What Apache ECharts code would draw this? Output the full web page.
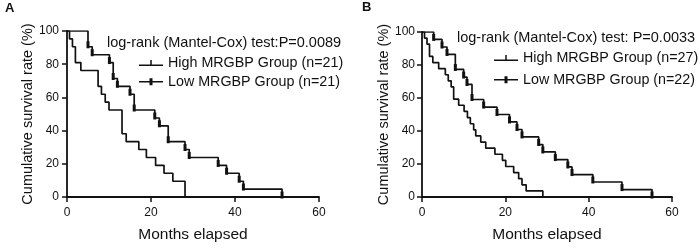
<!DOCTYPE html>
<html>
<head>
<meta charset="utf-8">
<script src="https://cdn.jsdelivr.net/npm/echarts@6/dist/echarts.min.js"></script>
<style>
  html, body { margin: 0; padding: 0; background: #fff; }
  #chart { width: 700px; height: 249px; }
</style>
</head>
<body>
<div id="chart"></div>
<script>
// Kaplan-Meier curves, panel A and panel B
var FONT = '"Liberation Sans", Arial, sans-serif';
var INK = '#111';

// panel A
var NAME_HIGH_A = 'High MRGBP Group (n=21)';
var NAME_LOW_A = 'Low MRGBP Group (n=21)';
var HIGH_A_MONTHS = [0, 0.6, 1.3, 2, 3.3, 7.4, 8.2, 9.1, 10, 13.1, 14.1, 17.1, 18.9, 21.1, 23.1, 25.2, 28.1];
var HIGH_A_SURV = [100, 95.2, 90.5, 81.0, 76.2, 66.7, 61.9, 57.1, 52.4, 38.1, 33.3, 28.6, 23.8, 19.0, 14.3, 9.5, 0];
var LOW_A_MONTHS = [0, 5, 6, 10.1, 11, 12, 15, 16, 20.9, 22, 24.1, 28.1, 29.1, 36, 38, 41, 42, 51.2];
var LOW_A_SURV = [100, 90.5, 85.7, 81.0, 71.4, 66.7, 61.9, 52.4, 47.6, 42.9, 33.3, 28.6, 23.8, 19.0, 14.3, 9.5, 4.8, 0];
var TEST_A = 'log-rank (Mantel-Cox) test:P=0.0089';

// panel B
var NAME_HIGH_B = 'High MRGBP Group (n=27)';
var NAME_LOW_B = 'Low MRGBP Group (n=22)';
var HIGH_B_MONTHS = [0, 0.6, 1.2, 1.8, 2.6, 4, 5.6, 6.3, 7, 7.6, 8.8, 10.1, 10.9, 11.6, 12.4, 12.9, 14.1, 15.3, 17.5, 19.3, 20.1, 22, 23.2, 24, 25, 29];
var HIGH_B_SURV = [100, 96.3, 92.6, 85.2, 81.5, 77.8, 74.1, 70.4, 66.7, 59.3, 55.6, 51.9, 48.1, 44.4, 40.7, 37.0, 33.3, 29.6, 25.9, 22.2, 18.5, 14.8, 11.1, 7.4, 3.7, 0];
var LOW_B_MONTHS = [0, 2.8, 4.8, 6, 8, 10, 10.8, 12, 14.8, 18, 21, 22.8, 24, 28, 29, 32, 35, 36, 41, 48, 55.2];
var LOW_B_SURV = [100, 95.5, 90.9, 86.4, 77.3, 72.7, 68.2, 59.1, 54.5, 50, 45.5, 40.9, 36.4, 31.8, 27.3, 22.7, 18.2, 13.6, 9.1, 4.5, 0];
var TEST_B = 'log-rank (Mantel-Cox) test: P=0.0033';

var ICON_HIGH = 'path://M0,6.5h24v1.5h-24z M11.25,2h1.5v5h-1.5z';
var ICON_LOW = 'path://M0,3.25h24v1.5h-24z M10.5,0.5h3v7h-3z';

function zip(xs, ys) {
  return xs.map(function(x, i) { return [x, ys[i]]; });
}

function kmSeries(name, months, surv, idx, censorMarks) {
  var data = zip(months, surv).map(function(p, i) {
    if (!censorMarks || i === 0) return { value: p, symbol: 'none' };
    return { value: p };
  });
  return {
    name: name,
    type: 'line',
    step: 'end',
    xAxisIndex: idx,
    yAxisIndex: idx,
    data: data,
    symbol: censorMarks ? 'rect' : 'none',
    symbolSize: [3, 7],
    symbolOffset: [0, -2],
    showSymbol: !!censorMarks,
    itemStyle: { color: INK },
    lineStyle: { color: INK, width: 1.7 },
    animation: false,
    silent: true,
  };
}

function xAxisFor(idx) {
  return {
    gridIndex: idx,
    type: 'value',
    min: 0, max: 60, interval: 20,
    name: 'Months elapsed',
    nameLocation: 'middle',
    nameGap: 30,
    nameTextStyle: { fontFamily: FONT, fontSize: 15.5, color: INK },
    axisLine: { lineStyle: { color: INK, width: 1.8 } },
    axisTick: { length: 5, lineStyle: { color: INK, width: 1.5 } },
    axisLabel: { fontFamily: FONT, fontSize: 12, color: INK, margin: 10 },
    splitLine: { show: false },
  };
}

function yAxisFor(idx, gap, labelMargin) {
  return {
    gridIndex: idx,
    type: 'value',
    min: 0, max: 100, interval: 20,
    name: 'Cumulative survival rate (%)',
    nameLocation: 'middle',
    nameGap: gap,
    nameTextStyle: { fontFamily: FONT, fontSize: 14.5, color: INK },
    axisLine: { show: true, lineStyle: { color: INK, width: 1.8 } },
    axisTick: { show: true, length: 5, lineStyle: { color: INK, width: 1.5 } },
    axisLabel: { fontFamily: FONT, fontSize: 12, color: INK, margin: labelMargin },
    splitLine: { show: false },
  };
}

function legendFor(left, top, gap, high, low) {
  return {
    orient: 'vertical',
    left: left,
    top: top,
    itemWidth: 24,
    itemHeight: 8,
    itemGap: gap,
    selectedMode: false,
    textStyle: { fontFamily: FONT, fontSize: 14.3, color: INK },
    data: [
      { name: high, icon: ICON_HIGH },
      { name: low, icon: ICON_LOW },
    ],
  };
}

var chart = echarts.init(document.getElementById('chart'), null, { renderer: 'canvas' });

var testStyle = { fontFamily: FONT, fontSize: 14.5, fontWeight: 'normal', color: INK };
var tagStyle = { fontFamily: FONT, fontSize: 13, fontWeight: 'bold', color: INK };

chart.setOption({
  backgroundColor: '#fff',
  animation: false,
  title: [
    { text: 'A', left: 5, top: 2, padding: 0, textStyle: tagStyle },
    { text: 'B', left: 362, top: 1, padding: 0, textStyle: tagStyle },
    { text: TEST_A, left: 102, top: 30, textStyle: testStyle },
    { text: TEST_B, left: 452, top: 25, textStyle: testStyle },
  ],
  legend: [
    legendFor(134, 51, 4.7, NAME_HIGH_A, NAME_LOW_A),
    legendFor(489, 46, 7.7, NAME_HIGH_B, NAME_LOW_B),
  ],
  grid: [
    { left: 67, top: 31, width: 252, height: 166 },
    { left: 422, top: 32, width: 250, height: 165 },
  ],
  xAxis: [xAxisFor(0), xAxisFor(1)],
  yAxis: [yAxisFor(0, 32, 8), yAxisFor(1, 25, 7)],
  series: [
    kmSeries(NAME_HIGH_A, HIGH_A_MONTHS, HIGH_A_SURV, 0, false),
    kmSeries(NAME_LOW_A, LOW_A_MONTHS, LOW_A_SURV, 0, true),
    kmSeries(NAME_HIGH_B, HIGH_B_MONTHS, HIGH_B_SURV, 1, false),
    kmSeries(NAME_LOW_B, LOW_B_MONTHS, LOW_B_SURV, 1, true),
  ],
});
</script>
</body>
</html>
